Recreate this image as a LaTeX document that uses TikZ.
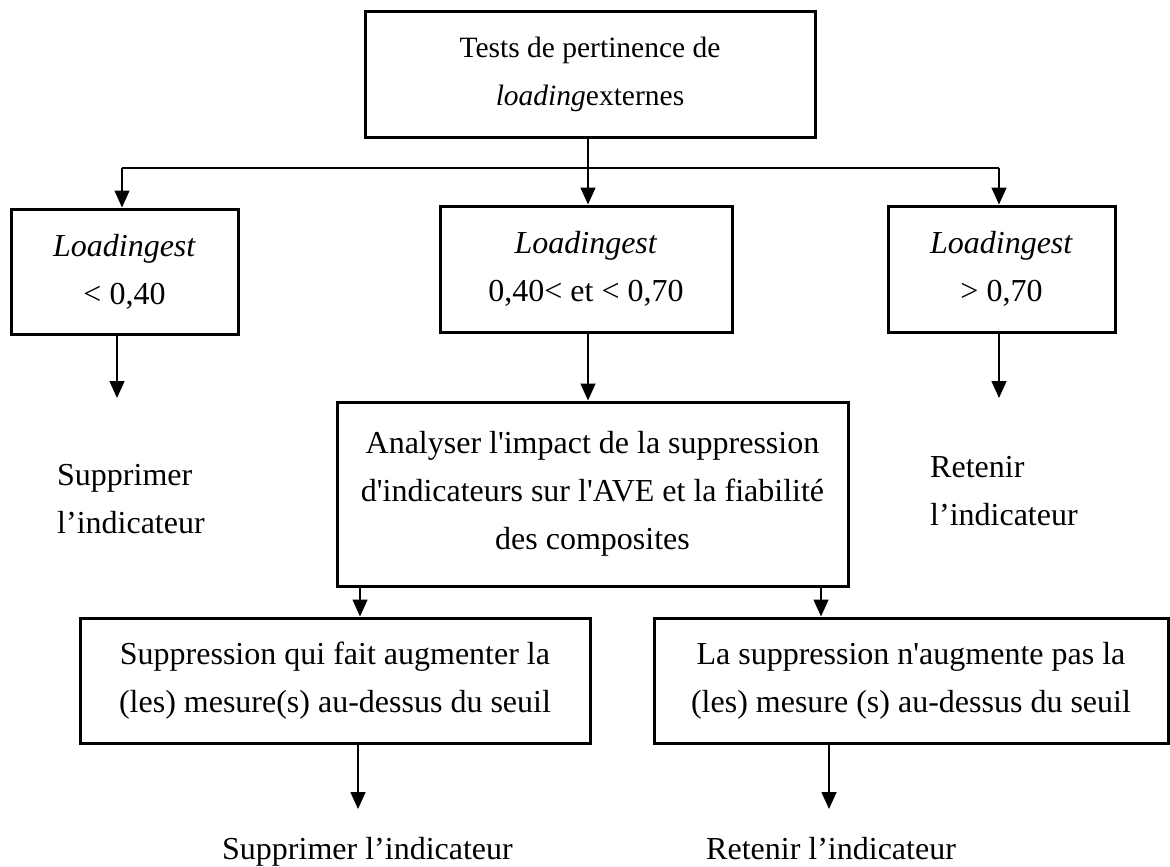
\documentclass[tikz,border=0pt]{standalone}
\usepackage{fontspec}
\setmainfont{Liberation Serif}
\usetikzlibrary{arrows.meta}
% straight apostrophe, kept apart from the curly one
\newcommand\sq{\textquotesingle}
\begin{document}
\begin{tikzpicture}[x=1pt,y=-1pt,
  box/.style={draw, line width=3pt, inner sep=0pt, align=center,
    font=\fontsize{32}{48}\selectfont},
  link/.style={line width=1.5pt},
  arr/.style={link, -{Triangle[length=17pt,width=15pt]}},
  txt/.style={inner sep=0pt, align=left, font=\fontsize{32}{48}\selectfont}]
\useasboundingbox (0,0) rectangle (1170,867);

% boxes
\node[box, minimum width=450pt, minimum height=125pt,
  font=\fontsize{29.5}{48}\selectfont] (top) at (590,74.5)
  {Tests de pertinence de\\\textit{loading}externes};
\node[box, minimum width=227pt, minimum height=125pt] (low) at (124.5,271.5)
  {\textit{Loadingest}\\< 0,40};
\node[box, minimum width=292pt, minimum height=126pt] (mid) at (586,269)
  {\textit{Loadingest}\\0,40< et < 0,70};
\node[box, minimum width=227pt, minimum height=126pt] (high) at (1001.5,269)
  {\textit{Loadingest}\\> 0,70};
\node[box, minimum width=511pt, minimum height=184pt] (ana) at (592.5,494)
  {Analyser l\sq impact de la suppression\\d\sq indicateurs sur l\sq AVE et la fiabilité\\des composites};
\node[box, minimum width=510pt, minimum height=125pt] (bl) at (335,680.5)
  {Suppression qui fait augmenter la\\(les) mesure(s) au-dessus du seuil};
\node[box, minimum width=514pt, minimum height=125pt] (br) at (911,680.5)
  {La suppression n\sq augmente pas la\\(les) mesure (s) au-dessus du seuil};

% outcome texts
\node[txt, anchor=north west] (outlow) at (57,464) {Supprimer\\l’indicateur};
\node[txt, anchor=north west] (outhigh) at (930,456) {Retenir\\l’indicateur};
\node[txt, anchor=base west] (outbl) at (222,859) {Supprimer l’indicateur};
\node[txt, anchor=base west] (outbr) at (706,859) {Retenir l’indicateur};

% branching from the top box
\coordinate (hub) at (588,168);
\coordinate (hl) at (122,168);
\coordinate (hr) at (999,168);
\draw[link] (hub |- top.south) -- (hub);
\draw[link] (hl) -- (hr);
\draw[arr] (hl) -- (hl |- low.north);
\draw[arr] (hub) -- (hub |- mid.north);
\draw[arr] (hr) -- (hr |- high.north);

% second level
\coordinate (dl) at (117,398);
\coordinate (dr) at (999,398);
\draw[arr] (dl |- low.south) -- (dl);
\draw[arr] (dr |- high.south) -- (dr);
\draw[arr] (hub |- mid.south) -- (hub |- ana.north);

% analysis to the two cases
\coordinate (al) at (360,600);
\coordinate (ar) at (821,600);
\draw[arr] (al |- ana.south) -- (al |- bl.north);
\draw[arr] (ar |- ana.south) -- (ar |- br.north);

% final outcomes
\coordinate (bdl) at (358,809);
\coordinate (bdr) at (829,809);
\draw[arr] (bdl |- bl.south) -- (bdl);
\draw[arr] (bdr |- br.south) -- (bdr);
\end{tikzpicture}
\end{document}
